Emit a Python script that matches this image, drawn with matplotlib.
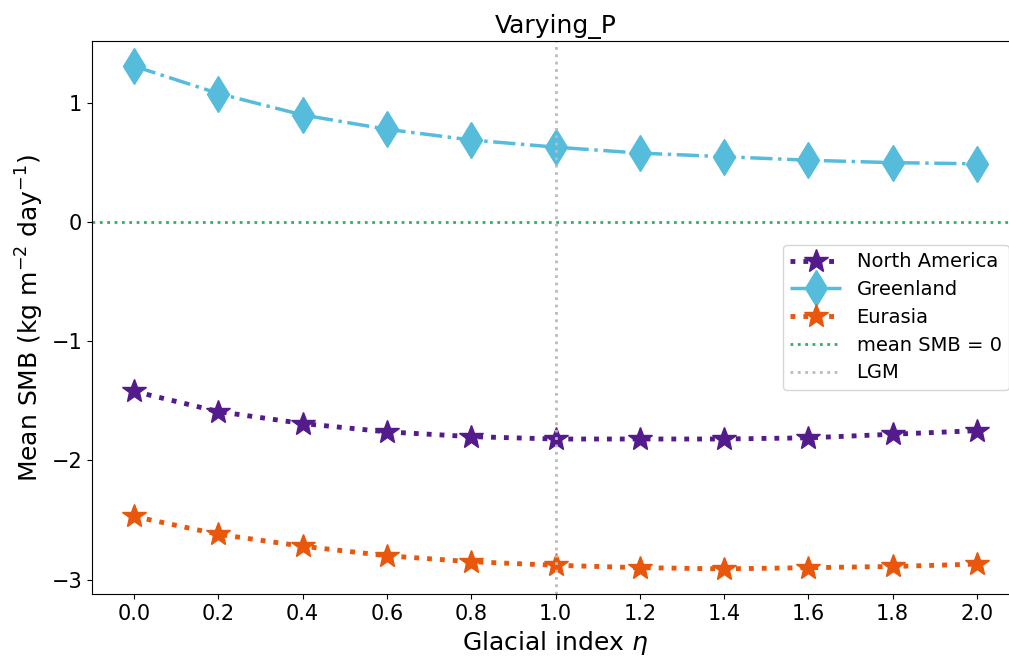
import matplotlib
matplotlib.use("Agg")
import matplotlib.pyplot as plt
import numpy as np

eta = [0.0, 0.2, 0.4, 0.6, 0.8, 1.0, 1.2, 1.4, 1.6, 1.8, 2.0]
north_america = [-1.42, -1.59, -1.69, -1.76, -1.80, -1.82, -1.82, -1.82, -1.81, -1.78, -1.75]
greenland = [1.31, 1.08, 0.90, 0.78, 0.69, 0.63, 0.58, 0.55, 0.52, 0.50, 0.49]
eurasia = [-2.47, -2.62, -2.72, -2.80, -2.85, -2.88, -2.90, -2.91, -2.90, -2.89, -2.87]

fig = plt.figure(figsize=(10.09, 6.6), dpi=100)
ax = fig.add_axes([92 / 1009, 66 / 660, 927 / 1009, 553 / 660])

ax.plot(eta, north_america, linestyle=':', color='#541B8C', linewidth=3.5,
        marker='*', markersize=18, label='North America')
ax.plot(eta, greenland, linestyle='-.', color='#56BCDC', linewidth=2.5,
        marker='d', markersize=18, label='Greenland')
ax.plot(eta, eurasia, linestyle=':', color='#E8570C', linewidth=3.5,
        marker='*', markersize=18, label='Eurasia')
ax.axhline(0, linestyle=':', color='#2CB06A', linewidth=2, label='mean SMB = 0')
ax.axvline(1.0, linestyle=':', color='#BBBBBB', linewidth=2, label='LGM')

ax.set_xticks(eta)
ax.set_xticklabels([f"{v:.1f}" for v in eta])
ax.tick_params(labelsize=15)
ax.set_xlabel(r'Glacial index $\eta$', fontsize=18)
ax.set_ylabel(r'Mean SMB (kg m$^{-2}$ day$^{-1}$)', fontsize=18)
ax.set_title('Varying_P', fontsize=18)
ax.legend(loc='center right', fontsize=14, handlelength=2.6, labelspacing=0.45)

fig.savefig('out.png', dpi=100)
